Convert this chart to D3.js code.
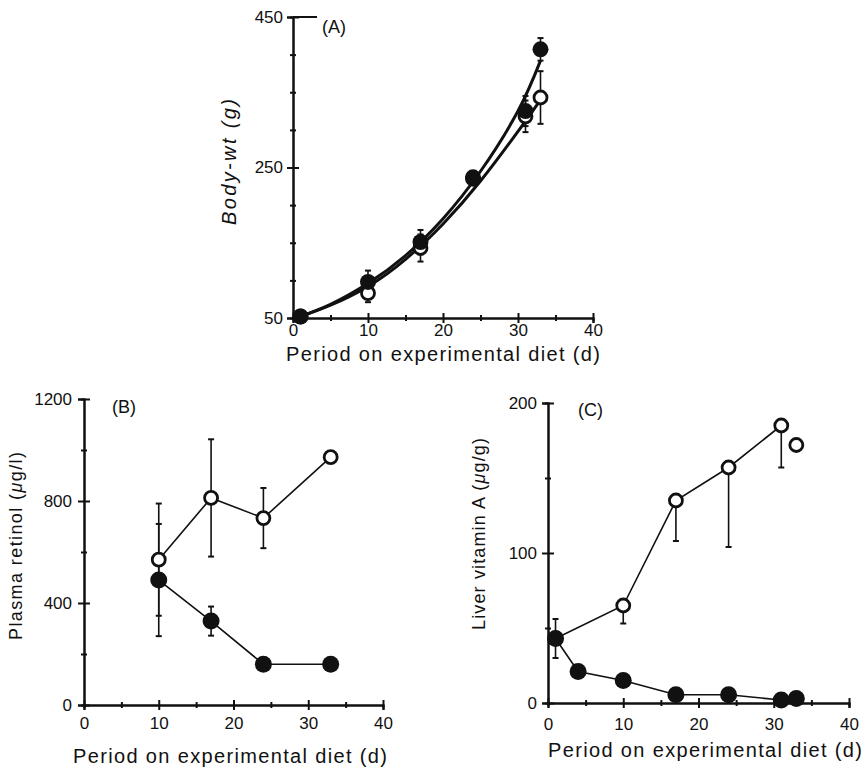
<!DOCTYPE html>
<html>
<head>
<meta charset="utf-8">
<script src="https://cdn.jsdelivr.net/npm/d3@7"></script>
<style>
  body { margin: 0; background: #fff; }
  text { font-family: "Liberation Sans", Arial, sans-serif; fill: #111; }
</style>
</head>
<body>
<div id="chart"></div>
<script>
// ---- data ----

// (A) body weight
var daysA = [1, 10, 17, 24, 31, 33];
var bodyFilled = [52, 98, 151, 237, 325, 407];
var bodyFilledErr = [0, 15, 16, 5, 20, 15];
var bodyOpen = [52, 83, 143, 235, 318, 343];
var bodyOpenErr = [0, 12, 18, 5, 21, 35];
// fitted growth curves, read at these days
var fitDays = [1, 5, 10, 15, 20, 25, 30, 33];
var fitFilled = [52, 68, 96, 133, 182, 245, 325, 392];
var fitOpen = [52, 67, 92, 128, 175, 232, 298, 340];

// (B) plasma retinol
var daysB = [10, 17, 24, 33];
var plasmaOpen = [570, 812, 733, 972];
var plasmaOpenErr = [220, 230, 118, 0];
var plasmaFilled = [490, 329, 160, 160];
var plasmaFilledErr = [220, 57, 0, 0];

// (C) liver vitamin A
var daysCOpen = [1, 10, 17, 24, 31];
var liverOpen = [43, 65, 135, 157, 185];
var liverOpenErrDown = [0, 12, 27, 53, 28];
var daysCOpenLone = [33];
var liverOpenLone = [172];
var daysCFilled = [1, 4, 10, 17, 24, 31, 33];
var liverFilled = [43, 21, 15, 5.5, 5.5, 2, 3];
var liverFilledErr = [13, 0, 0, 0, 0, 0, 0];

// x ticks shared by all panels
var xMajor = [0, 10, 20, 30, 40];
var xMinor = [5, 15, 25, 35];

var xTitle = 'Period on experimental diet (d)';

// ---- svg ----
var svg = d3.select('#chart').append('svg')
  .attr('width', 866)
  .attr('height', 769);

svg.append('rect').attr('width', 866).attr('height', 769).attr('fill', '#fff');

// draws axes (crossing ticks, small minor ticks, labels)
function drawAxes(g, x, y, yMajor, yMinor, opt) {
  var x0 = x.range()[0], y0 = y.range()[0];

  // x axis
  var xa = g.append('g').attr('transform', 'translate(0,' + y0 + ')')
    .call(d3.axisBottom(x).tickValues(xMajor).tickSize(5).tickFormat(d3.format('d')));
  xa.selectAll('.tick line').attr('y1', -5).attr('y2', 5);
  xa.selectAll('.tick text').attr('y', opt.xTickY).attr('dy', 0);
  g.append('g').attr('transform', 'translate(0,' + y0 + ')')
    .call(d3.axisBottom(x).tickValues(xMinor).tickSize(3).tickFormat(''))
    .selectAll('.tick line').attr('y1', -3).attr('y2', 3);

  // y axis
  var ya = g.append('g').attr('transform', 'translate(' + x0 + ',0)')
    .call(d3.axisLeft(y).tickValues(yMajor).tickSize(6).tickFormat(d3.format('d')));
  ya.selectAll('.tick line').attr('x1', -6).attr('x2', 6);
  ya.selectAll('.tick text').attr('x', -opt.yTickGap);
  g.append('g').attr('transform', 'translate(' + x0 + ',0)')
    .call(d3.axisLeft(y).tickValues(yMinor).tickSize(3).tickFormat(''))
    .selectAll('.tick line').attr('x1', -3).attr('x2', 3);

  g.selectAll('.domain').attr('stroke', '#111').attr('stroke-width', 2);
  g.selectAll('.tick line').attr('stroke', '#111').attr('stroke-width', 2);
  g.selectAll('.tick text')
    .attr('font-size', 17)
    .attr('fill', '#111')
    .attr('font-family', '"Liberation Sans", Arial, sans-serif');

  // axis titles
  g.append('text')
    .attr('x', opt.xTitleX).attr('y', opt.xTitleY)
    .attr('text-anchor', 'middle')
    .attr('font-size', 20)
    .attr('textLength', 314).attr('lengthAdjust', 'spacing')
    .text(xTitle);

  var yt = g.append('text')
    .attr('transform', 'translate(' + opt.yTitleX + ',' + opt.yTitleY + ') rotate(-90)')
    .attr('text-anchor', 'middle')
    .attr('font-size', opt.yTitleSize)
    .attr('textLength', opt.yTitleLen).attr('lengthAdjust', 'spacing');
  opt.yTitle.forEach(function (p) {
    yt.append('tspan').attr('font-style', p[1] ? 'italic' : 'normal').text(p[0]);
  });

  g.append('text')
    .attr('x', opt.tagX).attr('y', opt.tagY)
    .attr('font-size', 18)
    .text(opt.tag);
}

function errorBars(g, x, y, days, vals, down, up) {
  var cap = 3;
  days.forEach(function (d, i) {
    var lo = down[i], hi = up[i];
    if (!lo && !hi) return;
    var cx = x(d);
    var y1 = y(vals[i] - lo), y2 = y(vals[i] + hi);
    g.append('line').attr('x1', cx).attr('x2', cx).attr('y1', y1).attr('y2', y2)
      .attr('stroke', '#111').attr('stroke-width', 1.6);
    if (lo) g.append('line').attr('x1', cx - cap).attr('x2', cx + cap).attr('y1', y1).attr('y2', y1)
      .attr('stroke', '#111').attr('stroke-width', 2);
    if (hi) g.append('line').attr('x1', cx - cap).attr('x2', cx + cap).attr('y1', y2).attr('y2', y2)
      .attr('stroke', '#111').attr('stroke-width', 2);
  });
}

function series(g, x, y, days, vals, filled, r) {
  g.selectAll(null)
    .data(days.map(function (d, i) { return [d, vals[i]]; }))
    .enter().append('circle')
    .attr('cx', function (d) { return x(d[0]); })
    .attr('cy', function (d) { return y(d[1]); })
    .attr('r', filled ? r : r - 1.5)
    .attr('fill', filled ? '#111' : '#fff')
    .attr('stroke', '#111')
    .attr('stroke-width', filled ? 0 : 2.8);
}

function pairs(days, vals) {
  return days.map(function (d, i) { return [d, vals[i]]; });
}

// ---- panel A ----
var gA = svg.append('g');
var xA = d3.scaleLinear().domain([0, 40]).range([293, 593]);
var yA = d3.scaleLinear().domain([50, 450]).range([318, 17]);

drawAxes(gA, xA, yA, [50, 250, 450], [100, 150, 200, 300, 350, 400], {
  xTickY: 18, yTickGap: 10,
  xTitleX: 443, xTitleY: 361,
  yTitleX: 236, yTitleY: 162, yTitleLen: 126, yTitleSize: 20,
  yTitle: [['Body-wt (', true], ['g', true], [')', true]],
  tag: '(A)', tagX: 322, tagY: 33
});
// top tick runs across to the panel tag
gA.append('line').attr('x1', 293).attr('x2', 317).attr('y1', yA(450)).attr('y2', yA(450))
  .attr('stroke', '#111').attr('stroke-width', 2);

var fitLine = d3.line()
  .x(function (d) { return xA(d[0]); })
  .y(function (d) { return yA(d[1]); })
  .curve(d3.curveNatural);

gA.append('path').attr('d', fitLine(pairs(fitDays, fitOpen)))
  .attr('fill', 'none').attr('stroke', '#111').attr('stroke-width', 3);
gA.append('path').attr('d', fitLine(pairs(fitDays, fitFilled)))
  .attr('fill', 'none').attr('stroke', '#111').attr('stroke-width', 3);

errorBars(gA, xA, yA, daysA, bodyOpen, bodyOpenErr, bodyOpenErr);
errorBars(gA, xA, yA, daysA, bodyFilled, bodyFilledErr, bodyFilledErr);
series(gA, xA, yA, daysA, bodyOpen, false, 8);
series(gA, xA, yA, daysA, bodyFilled, true, 8);

// ---- panel B ----
var gB = svg.append('g');
var xB = d3.scaleLinear().domain([0, 40]).range([84, 383]);
var yB = d3.scaleLinear().domain([0, 1200]).range([705, 399]);

drawAxes(gB, xB, yB, [0, 400, 800, 1200], [200, 600, 1000], {
  xTickY: 24, yTickGap: 12,
  xTitleX: 230, xTitleY: 763,
  yTitleX: 22, yTitleY: 546, yTitleLen: 188, yTitleSize: 18,
  yTitle: [['Plasma retinol (', false], ['\u03bc', true], ['g/l)', false]],
  tag: '(B)', tagX: 112, tagY: 413
});

var lineB = d3.line()
  .x(function (d) { return xB(d[0]); })
  .y(function (d) { return yB(d[1]); });

gB.append('path').attr('d', lineB(pairs(daysB, plasmaOpen)))
  .attr('fill', 'none').attr('stroke', '#111').attr('stroke-width', 1.6);
gB.append('path').attr('d', lineB(pairs(daysB, plasmaFilled)))
  .attr('fill', 'none').attr('stroke', '#111').attr('stroke-width', 1.6);
errorBars(gB, xB, yB, daysB, plasmaOpen, plasmaOpenErr, plasmaOpenErr);
errorBars(gB, xB, yB, daysB, plasmaFilled, plasmaFilledErr, plasmaFilledErr);
series(gB, xB, yB, daysB, plasmaOpen, false, 8);
series(gB, xB, yB, daysB, plasmaFilled, true, 8.5);

// ---- panel C ----
var gC = svg.append('g');
var xC = d3.scaleLinear().domain([0, 40]).range([548, 849]);
var yC = d3.scaleLinear().domain([0, 200]).range([703, 403]);

drawAxes(gC, xC, yC, [0, 100, 200], [50, 150], {
  xTickY: 27, yTickGap: 11,
  xTitleX: 705, xTitleY: 757,
  yTitleX: 485, yTitleY: 534, yTitleLen: 192, yTitleSize: 18,
  yTitle: [['Liver vitamin A (', false], ['\u03bc', true], ['g/g)', false]],
  tag: '(C)', tagX: 578, tagY: 416
});

var lineC = d3.line()
  .x(function (d) { return xC(d[0]); })
  .y(function (d) { return yC(d[1]); });

gC.append('path').attr('d', lineC(pairs(daysCOpen, liverOpen)))
  .attr('fill', 'none').attr('stroke', '#111').attr('stroke-width', 1.6);
gC.append('path').attr('d', lineC(pairs(daysCFilled, liverFilled)))
  .attr('fill', 'none').attr('stroke', '#111').attr('stroke-width', 1.6);
errorBars(gC, xC, yC, daysCOpen, liverOpen, liverOpenErrDown, liverOpenErrDown.map(function () { return 0; }));
errorBars(gC, xC, yC, daysCFilled, liverFilled, liverFilledErr, liverFilledErr);
series(gC, xC, yC, daysCOpen, liverOpen, false, 8);
series(gC, xC, yC, daysCOpenLone, liverOpenLone, false, 8);
series(gC, xC, yC, daysCFilled, liverFilled, true, 8.5);
</script>
</body>
</html>
